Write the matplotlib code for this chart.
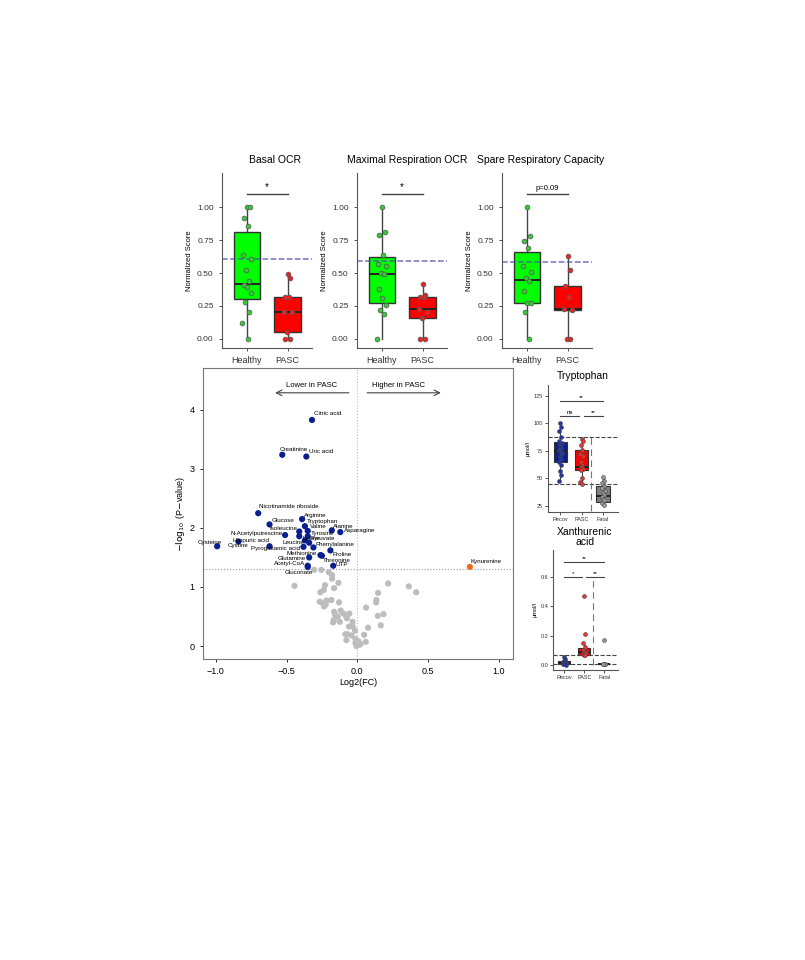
import numpy as np
import matplotlib
matplotlib.use("Agg")
import matplotlib.pyplot as plt

plt.rcParams["font.family"] = ["Liberation Sans", "DejaVu Sans"]

W, H = 805, 960

# ---------------- data: top OCR panels ----------------
ocr_titles = ["Basal OCR", "Maximal Respiration OCR", "Spare Respiratory Capacity"]
ocr_sig = ["*", "*", "p=0.09"]
ocr_ref = [0.61, 0.595, 0.585]
healthy_pts = [
    [1.0, 1.0, 0.92, 0.86, 0.64, 0.61, 0.52, 0.44, 0.41, 0.39, 0.35, 0.28, 0.20, 0.12, 0.0],
    [1.0, 0.81, 0.79, 0.64, 0.57, 0.55, 0.50, 0.49, 0.38, 0.31, 0.26, 0.22, 0.19, 0.0],
    [1.0, 0.78, 0.74, 0.69, 0.55, 0.51, 0.46, 0.44, 0.36, 0.27, 0.27, 0.20, 0.0],
]
pasc_pts = [
    [0.49, 0.46, 0.32, 0.32, 0.20, 0.20, 0.05, 0.0, 0.0],
    [0.42, 0.33, 0.32, 0.32, 0.23, 0.20, 0.16, 0.0, 0.0],
    [0.63, 0.52, 0.40, 0.32, 0.23, 0.22, 0.0, 0.0],
]
# (whislo, q1, med, q3, whishi)
healthy_box = [(0.0, 0.30, 0.42, 0.81, 1.0), (0.0, 0.27, 0.49, 0.62, 1.0), (0.0, 0.27, 0.45, 0.66, 1.0)]
pasc_box = [(0.0, 0.05, 0.20, 0.32, 0.49), (0.0, 0.16, 0.23, 0.32, 0.42), (0.0, 0.22, 0.23, 0.40, 0.63)]

# ---------------- data: volcano ----------------
sig_names = ["Citric acid", "Creatinine", "Uric acid", "Nicotinamide riboside", "Glucose",
             "Arginine", "Tryptophan", "Isoleucine", "Valine", "Alanine", "Asparagine",
             "N-Acetylputrescine", "Lysine", "Tyrosine", "Pyruvate", "Cysteine", "Cystine",
             "Hippuric acid", "Leucine", "Pyroglutamic acid", "Phenylalanine", "Proline",
             "Methionine", "Glutamine", "Threonine", "UTP", "Acetyl-CoA", "Gluconate"]
sig_fc = [-0.32, -0.53, -0.36, -0.70, -0.62, -0.39, -0.37, -0.41, -0.35, -0.18, -0.12,
          -0.51, -0.41, -0.35, -0.37, -0.99, -0.84, -0.62, -0.34, -0.38, -0.31, -0.19,
          -0.26, -0.34, -0.25, -0.17, -0.35, -0.35]
sig_p = [3.83, 3.24, 3.21, 2.25, 2.06, 2.15, 2.03, 1.94, 1.95, 1.96, 1.93, 1.88, 1.86,
         1.86, 1.79, 1.69, 1.77, 1.69, 1.75, 1.68, 1.67, 1.62, 1.54, 1.50, 1.53, 1.36,
         1.36, 1.34]
up_name, up_fc, up_p = "Kynurenine", 0.795, 1.34
ns_fc = [-0.305, -0.254, -0.202, -0.444, -0.228, -0.261, -0.164, -0.133, -0.178, -0.178,
         -0.237, 0.218, 0.364, 0.416, 0.147, 0.135, 0.133, -0.265, -0.183, -0.218, -0.223,
         -0.242, -0.129, -0.235, -0.164, -0.117, -0.098, -0.056, -0.157, -0.138, -0.077,
         -0.166, -0.171, -0.124, -0.034, -0.074, 0.062, 0.185, 0.145, 0.166, 0.076, -0.032,
         -0.058, -0.084, -0.070, -0.016, -0.041, -0.077, -0.013, 0.048, 0.008, -0.013,
         0.060, -0.006, 0.010, 0.022]
ns_p = [1.29, 1.29, 1.25, 1.02, 1.03, 0.91, 0.98, 1.07, 1.14, 1.20, 0.95, 1.06, 1.01,
        0.91, 0.90, 0.78, 0.74, 0.75, 0.78, 0.77, 0.70, 0.72, 0.74, 0.67, 0.58, 0.60,
        0.55, 0.55, 0.53, 0.50, 0.50, 0.44, 0.40, 0.41, 0.41, 0.47, 0.65, 0.54, 0.51,
        0.35, 0.31, 0.33, 0.33, 0.20, 0.20, 0.26, 0.18, 0.10, 0.12, 0.19, 0.08, 0.05,
        0.07, 0.00, 0.02, 0.03]

# ---------------- data: right box panels ----------------
groups = ["Recov", "PASC", "Fatal"]
trp_pts = [
    [100, 97, 93, 88, 84, 82, 80, 78, 76, 75, 73, 70, 68, 65, 62, 57, 53, 48],
    [86, 84, 80, 76, 72, 70, 65, 62, 60, 60, 59, 58, 50, 47, 45],
    [51, 48, 46, 43, 41, 39, 37, 35, 33, 31, 30, 28, 26],
]
trp_box = [(48, 65, 75, 83, 100), (45, 58, 60, 76, 86), (25, 29, 34, 43, 51)]
xan_pts = [
    [0.055, 0.04, 0.03, 0.025, 0.02, 0.015, 0.012, 0.01, 0.008, 0.005, 0.0],
    [0.47, 0.21, 0.15, 0.12, 0.10, 0.09, 0.085, 0.08, 0.075, 0.07, 0.065],
    [0.17, 0.01, 0.008, 0.006, 0.005],
]
xan_box = [(0.0, 0.008, 0.015, 0.025, 0.055), (0.065, 0.07, 0.09, 0.115, 0.15), (0.004, 0.006, 0.008, 0.01, 0.012)]

fig = plt.figure(figsize=(W / 100, H / 100), dpi=100)


def ax_px(l, t, r, b):
    return fig.add_axes([l / W, 1 - b / H, (r - l) / W, (b - t) / H])


def box(ax, pos, stats, color, width=0.62, lw=1.0, ec="#333333"):
    lo, q1, med, q3, hi = stats
    ax.bxp([dict(whislo=lo, q1=q1, med=med, q3=q3, whishi=hi, fliers=[])], positions=[pos],
           widths=width, patch_artist=True, showcaps=False,
           boxprops=dict(facecolor=color, edgecolor=ec, linewidth=lw),
           medianprops=dict(color="#222222", linewidth=1.4),
           whiskerprops=dict(color="#444444", linewidth=lw))


def jitter(n, amp):
    pattern = [0.0, 0.6, -0.5, 0.3, -0.8, 0.9, -0.2, 0.5, -0.6, 0.1, 0.8, -0.4, 0.4, -0.9, 0.2, -0.1, 0.7, -0.7]
    return np.array([pattern[i % len(pattern)] * amp for i in range(n)])


def classic(ax):
    for s in ["top", "right"]:
        ax.spines[s].set_visible(False)
    for s in ["left", "bottom"]:
        ax.spines[s].set_color("#555555")
    ax.tick_params(colors="#333333", length=2.5, width=0.6)


# ---------------- top OCR ----------------
lefts = [222, 357, 502]
title_x = [275, 407, 541]
for i in range(3):
    l = lefts[i]
    ax = ax_px(l, 173, l + 90, 348)
    classic(ax)
    box(ax, 1, healthy_box[i], "#00ff00", width=0.65)
    box(ax, 2, pasc_box[i], "#ff0000", width=0.65)
    for pos, pts, col in [(1, healthy_pts[i], "#33cc33"), (2, pasc_pts[i], "#ee2222")]:
        pts = np.array(pts)
        ax.scatter(pos + jitter(len(pts), 0.12), pts, s=12, facecolor=col,
                   edgecolor="#555555", linewidth=0.5, zorder=3)
    ax.axhline(ocr_ref[i], color="#5050a8", ls="--", lw=1.1, alpha=0.8)
    ax.plot([1, 2], [1.1, 1.1], color="#444444", lw=1.0)
    ax.text(1.5, 1.115, ocr_sig[i], ha="center", va="bottom", fontsize=7 if i < 2 else 5.5)
    ax.set_xlim(0.39, 2.6)
    ax.set_ylim(-0.07, 1.26)
    ax.set_xticks([1, 2], ["Healthy", "PASC"], fontsize=6.5)
    ax.set_yticks([0, 0.25, 0.5, 0.75, 1.0], ["0.00", "0.25", "0.50", "0.75", "1.00"], fontsize=6)
    ax.set_ylabel("Normalized Score", fontsize=5.5, labelpad=3)
    fig.text(title_x[i] / W, 1 - 160 / H, ocr_titles[i], ha="center", va="center", fontsize=7.5)

# ---------------- volcano ----------------
av = ax_px(203, 368, 513, 659)
for s in av.spines.values():
    s.set_color("#777777")
av.tick_params(length=2.5, width=0.6, labelsize=6.5)
av.axvline(0, color="#bbbbbb", ls=":", lw=0.8)
av.axhline(1.3, color="#999999", ls=":", lw=0.8)
av.scatter(ns_fc, ns_p, s=20, color="#bdbdbd", edgecolor="none", zorder=2)
av.scatter(sig_fc, sig_p, s=20, color="#0a1f8f", edgecolor="none", zorder=3)
av.scatter([up_fc], [up_p], s=20, color="#f26a1b", edgecolor="none", zorder=3)

# label offsets in pixels (dx, dy, ha)
offs = {"Citric acid": (2, 6, "left"), "Creatinine": (-3, 5, "left"), "Uric acid": (3, 5, "left"),
        "Nicotinamide riboside": (1, 7, "left"), "Glucose": (2, 4, "left"), "Arginine": (2, 4, "left"),
        "Tryptophan": (2, 5, "left"), "Isoleucine": (-2, 3, "right"), "Valine": (2, 4, "left"),
        "Alanine": (1, 4, "left"), "Asparagine": (4, 2, "left"), "N-Acetylputrescine": (-2, 2, "right"),
        "Lysine": (3, -2, "left"), "Tyrosine": (3, 3, "left"), "Pyruvate": (6, 2, "left"),
        "Cysteine": (-7, 4, "center"), "Cystine": (0, -4, "center"), "Hippuric acid": (-1, 6, "right"),
        "Leucine": (-5, 0, "right"), "Pyroglutamic acid": (-3, -2, "right"), "Phenylalanine": (2, 3, "left"),
        "Proline": (2, -4, "left"), "Methionine": (-4, 2, "right"), "Glutamine": (-3, -1, "right"),
        "Threonine": (1, -5, "left"), "UTP": (2, 1, "left"), "Acetyl-CoA": (-3, 2, "right"),
        "Gluconate": (-9, -6, "center")}
for n, x, y in zip(sig_names, sig_fc, sig_p):
    dx, dy, ha = offs[n]
    av.annotate(n, (x, y), xytext=(dx, dy), textcoords="offset pixels", ha=ha, va="center", fontsize=4.5)
av.annotate(up_name, (up_fc, up_p), xytext=(1, 5), textcoords="offset pixels", ha="left",
            va="center", fontsize=4.5)

av.annotate("", xy=(-0.60, 4.29), xytext=(-0.04, 4.29),
            arrowprops=dict(arrowstyle="->", color="#444444", lw=0.8))
av.annotate("", xy=(0.61, 4.29), xytext=(0.05, 4.29),
            arrowprops=dict(arrowstyle="->", color="#444444", lw=0.8))
av.text(-0.32, 4.41, "Lower in PASC", ha="center", va="center", fontsize=5.5)
av.text(0.29, 4.41, "Higher in PASC", ha="center", va="center", fontsize=5.5)
av.set_xlim(-1.09, 1.10)
av.set_ylim(-0.22, 4.71)
av.set_xticks([-1.0, -0.5, 0.0, 0.5, 1.0])
av.set_yticks([0, 1, 2, 3, 4])
av.set_xlabel("Log2(FC)", fontsize=6.5, labelpad=1)
av.set_ylabel(r"$-\log_{10}$ (P$-$value)", fontsize=6.5, labelpad=2)

# ---------------- right panels ----------------
colors = ["#0a1f8f", "#ff0000", "#808080"]
dotc = ["#2233aa", "#ee3333", "#999999"]

at = ax_px(548, 385, 618, 512)
classic(at)
for i in range(3):
    box(at, i + 1, trp_box[i], colors[i], width=0.62, lw=0.8)
    at.scatter(i + 1 + jitter(len(trp_pts[i]), 0.08), trp_pts[i], s=8, facecolor=dotc[i],
               edgecolor="#444444", linewidth=0.4, zorder=3)
at.axhline(88, color="#444444", ls="--", lw=0.8)
at.axhline(45, color="#444444", ls="--", lw=0.8)
at.plot([2.45, 2.45], [20, 88], color="#777777", ls=(0, (6, 4)), lw=0.8)
at.plot([1, 3], [120, 120], color="#444444", lw=0.8)
at.plot([1, 1.9], [107, 107], color="#444444", lw=0.8)
at.plot([2.1, 3], [107, 107], color="#444444", lw=0.8)
at.text(2, 121, "**", ha="center", va="bottom", fontsize=4.5)
at.text(1.45, 108, "ns", ha="center", va="bottom", fontsize=4.5)
at.text(2.55, 108, "**", ha="center", va="bottom", fontsize=4.5)
at.set_xlim(0.43, 3.7)
at.set_ylim(19.5, 135)
at.set_yticks([25, 50, 75, 100, 125])
at.set_xticks([1, 2, 3], groups)
at.tick_params(labelsize=4, pad=1.5, length=2)
at.set_ylabel("µmol/l", fontsize=4, labelpad=2)
at.set_title("Tryptophan", fontsize=7.5, pad=4)

ax2 = ax_px(553, 550, 618, 670)
classic(ax2)
for i in range(3):
    box(ax2, i + 1, xan_box[i], colors[i], width=0.62, lw=0.8)
    ax2.scatter(i + 1 + jitter(len(xan_pts[i]), 0.08), xan_pts[i], s=8, facecolor=dotc[i],
                edgecolor="#444444", linewidth=0.4, zorder=3)
ax2.axhline(0.065, color="#444444", ls="--", lw=0.8)
ax2.axhline(0.01, color="#444444", ls="--", lw=0.8)
ax2.plot([2.45, 2.45], [0.0, 0.6], color="#777777", ls=(0, (6, 4)), lw=0.8)
ax2.plot([1, 3], [0.7, 0.7], color="#444444", lw=0.8)
ax2.plot([1, 1.9], [0.6, 0.6], color="#444444", lw=0.8)
ax2.plot([2.1, 3], [0.6, 0.6], color="#444444", lw=0.8)
ax2.text(2, 0.705, "**", ha="center", va="bottom", fontsize=4.5)
ax2.text(1.45, 0.605, "*", ha="center", va="bottom", fontsize=4.5)
ax2.text(2.55, 0.605, "**", ha="center", va="bottom", fontsize=4.5)
ax2.set_xlim(0.43, 3.7)
ax2.set_ylim(-0.034, 0.78)
ax2.set_yticks([0.0, 0.2, 0.4, 0.6])
ax2.set_xticks([1, 2, 3], groups)
ax2.tick_params(labelsize=4, pad=1.5, length=2)
ax2.set_ylabel("µmol/l", fontsize=4, labelpad=2)
fig.text(585 / W, 1 - 537 / H, "Xanthurenic\nacid", ha="center", va="center", fontsize=7.5,
         linespacing=1.1)

fig.savefig("out.png", dpi=100)
